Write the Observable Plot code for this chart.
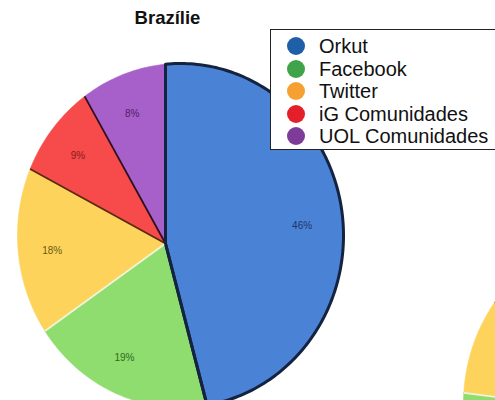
<!DOCTYPE html>
<html><head><meta charset="utf-8">
<script src="https://cdn.jsdelivr.net/npm/d3@7"></script>
<script src="https://cdn.jsdelivr.net/npm/@observablehq/plot@0.6"></script>
<style>
body{margin:0;background:#fff;font-family:"Liberation Sans",Arial,Helvetica,sans-serif;}
#wrap{position:relative;width:495px;height:400px;overflow:hidden;}
#chart{position:absolute;left:0;top:0;}
#title{position:absolute;left:0;width:335px;top:7px;text-align:center;font-weight:bold;font-size:18.5px;color:#111;}
#legend{position:absolute;left:270px;top:29px;width:240px;height:119px;border:1.5px solid #222;background:#fff;}
.row{position:absolute;left:0;height:22px;display:flex;align-items:center;}
.dot{position:absolute;left:16px;width:18px;height:18px;border-radius:50%;}
.lab{position:absolute;left:48px;font-size:20px;line-height:22px;white-space:nowrap;color:#111;}
</style></head><body>
<div id="wrap"><div id="chart"></div><div id="title">Brazílie</div><div id="legend"></div></div>
<script>
const categories = ["Orkut", "Facebook", "Twitter", "iG Comunidades", "UOL Comunidades"];
const brazilValues = [46, 19, 18, 9, 8];
const secondValues = [57, 20, 10, 7, 6];
const sliceColors = ["#4a82d6", "#8edd6e", "#fed35c", "#f74a4a", "#a75fc9"];
const labelColors = ["#1c3668", "#2f6a1e", "#6b5a10", "#8a1a1a", "#4d2168"];
const legendColors = ["#1f5fa8", "#3fa34a", "#f5a030", "#e3202a", "#7d3c98"];
const boundaryColors = ["#14233f", "#14233f", "#eef5d8", "#5b2a12", "#2e0f22"];

// layout of each pie (pixel geometry, not data)
const pies = [
  {name: "Brazílie", values: brazilValues, cx: 180, cy: 235, rx: 163, ry: 172, ax: 165, ay: 243},
  {name: "second", values: secondValues, cx: 626, cy: 403, rx: 163, ry: 172, ax: 611, ay: 411}
];

const polys = [], bounds = [], labels = [], outlines = [];
for (const g of pies) {
  const arcs = d3.pie().sort(null).value(d => d)(g.values);
  const edge = (th, f = 1) => {
    const dx = Math.sin(th), dy = -Math.cos(th);
    const px = (g.ax - g.cx) / g.rx, py = (g.ay - g.cy) / g.ry;
    const ux = dx / g.rx, uy = dy / g.ry;
    const A = ux * ux + uy * uy, B = 2 * (px * ux + py * uy), C = px * px + py * py - 1;
    const t = (-B + Math.sqrt(B * B - 4 * A * C)) / (2 * A);
    return [g.ax + f * t * dx, g.ay + f * t * dy];
  };
  arcs.forEach((a, i) => {
    const key = g.name + "-" + i;
    const pts = [[g.ax, g.ay]];
    const n = Math.max(2, Math.ceil((a.endAngle - a.startAngle) / (Math.PI / 180)));
    for (let k = 0; k <= n; k++) pts.push(edge(a.startAngle + (a.endAngle - a.startAngle) * k / n));
    for (const [x, y] of pts) {
      polys.push({key, cat: categories[i], x, y});
      if (i === 0) outlines.push({key, x, y});
    }
    const e = edge(a.startAngle);
    bounds.push({x1: g.ax, y1: g.ay, x2: e[0], y2: e[1], color: boundaryColors[i], w: i < 2 ? 3 : 1.8});
    const mid = (a.startAngle + a.endAngle) / 2;
    const l = edge(mid, 0.77);
    if (l[0] < 505 && l[1] < 405) labels.push({x: l[0], y: l[1], text: g.values[i] + "%", color: labelColors[i]});
  });
}

const chart = Plot.plot({
  width: 495, height: 400, margin: 0,
  x: {domain: [0, 495], axis: null},
  y: {domain: [0, 400], range: [0, 400], axis: null},
  color: {domain: categories, range: sliceColors},
  style: {background: "transparent"},
  marks: [
    Plot.line(polys, {x: "x", y: "y", z: "key", fill: "cat", stroke: "cat", strokeWidth: 0.6, curve: "linear-closed"}),
    Plot.link(bounds, {x1: "x1", y1: "y1", x2: "x2", y2: "y2", stroke: d => d.color, strokeWidth: d => d.w}),
    Plot.line(outlines, {x: "x", y: "y", z: "key", stroke: "#14233f", strokeWidth: 3, fill: "none", curve: "linear-closed", strokeLinejoin: "round"}),
    Plot.text(labels, {x: "x", y: "y", text: "text", fill: d => d.color, fontSize: 10, fontWeight: 500, fontFamily: "Liberation Sans, Arial, sans-serif"})
  ]
});
document.getElementById("chart").appendChild(chart);

const legend = document.getElementById("legend");
categories.forEach((c, i) => {
  const row = document.createElement("div");
  row.className = "row";
  row.style.top = (5 + i * 22.5) + "px";
  row.innerHTML = `<span class="dot" style="background:${legendColors[i]};top:2px"></span><span class="lab">${c}</span>`;
  legend.appendChild(row);
});
</script>
</body></html>
